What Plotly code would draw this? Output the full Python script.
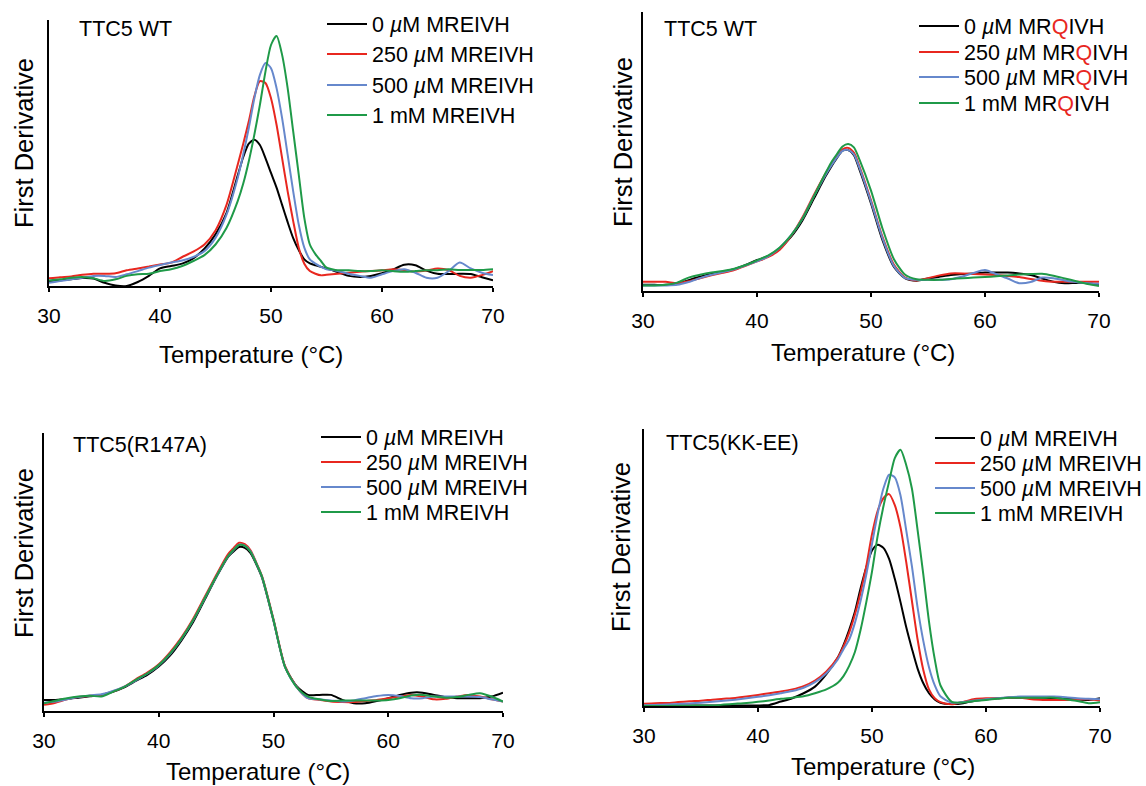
import plotly.graph_objects as go

# ---------------- data ----------------
# temperature grids (°C)
T_A = [30, 31, 32, 33, 34, 35, 36, 37, 38, 39, 40, 41, 42, 43, 44, 45, 46, 47,
       47.5, 48, 48.5, 49, 49.5, 50, 50.5, 51, 51.5, 52, 52.5, 53, 53.5, 54, 54.5, 55, 55.5, 56,
       57, 58, 59, 60, 61, 62, 63, 64, 65, 66, 67, 68, 69, 70]
T_B = [30, 31, 32, 33, 34, 35, 36, 37, 38, 39, 40, 41, 42, 43, 44, 45, 46,
       46.5, 47, 47.5, 48, 48.5,
       49, 50, 51, 52, 53, 54, 55, 56, 57, 58, 59, 60, 61, 62, 63, 64, 65, 66, 67, 68, 69, 70]

series_names_E = ["0 <i>µ</i>M MREIVH", "250 <i>µ</i>M MREIVH", "500 <i>µ</i>M MREIVH", "1 mM MREIVH"]
Q = '<span style="color:#e8271f">Q</span>'
series_names_Q = ["0 <i>µ</i>M MR" + Q + "IVH", "250 <i>µ</i>M MR" + Q + "IVH",
                  "500 <i>µ</i>M MR" + Q + "IVH", "1 mM MR" + Q + "IVH"]
panel_titles = ["TTC5 WT", "TTC5 WT", "TTC5(R147A)", "TTC5(KK-EE)"]
x_ticks = [30, 40, 50, 60, 70]

# Panel 1: TTC5 WT + MREIVH (first derivative, arbitrary units)
p1_0uM = [1.9, 2.2, 2.5, 3.0, 2.8, 1.2, 0.2, 0.0, 1.5, 3.8, 6.6, 7.5, 8.4, 10.4, 14.0, 19.4, 27.5, 41.5,
          48.5, 53.5, 55.0, 53.0, 48.1, 42.5, 37.0, 30.5, 24.0, 18.0, 13.5, 10.0, 8.5, 7.8, 7.2, 6.5, 6.0, 5.2,
          3.8, 3.4, 3.8, 4.8, 6.2, 8.0, 7.8, 5.8, 4.6, 4.5, 4.6, 4.5, 3.3, 2.1]
p1_250uM = [2.9, 3.3, 3.6, 4.2, 4.6, 4.6, 4.8, 5.9, 6.6, 7.3, 8.1, 8.8, 10.9, 12.9, 15.6, 20.9, 30.6, 45.6,
            53.5, 61.9, 71.3, 77.0, 76.3, 70.6, 60.6, 48.1, 35.6, 24.4, 14.4, 8.4, 5.6, 4.6, 4.0, 4.2, 4.4, 4.6,
            5.0, 5.4, 5.6, 5.9, 6.3, 6.0, 5.4, 5.8, 6.6, 6.0, 3.8, 3.1, 4.1, 5.6]
p1_500uM = [1.2, 1.9, 2.5, 3.1, 3.8, 3.8, 3.4, 4.4, 5.6, 6.9, 7.9, 8.8, 9.6, 10.9, 13.1, 18.1, 26.9, 40.6,
            49.5, 59.4, 70.6, 79.4, 83.8, 81.9, 74.4, 63.1, 49.4, 35.6, 23.1, 14.4, 10.0, 8.4, 7.2, 6.3, 6.0, 5.6,
            4.6, 3.8, 3.1, 4.4, 5.6, 6.3, 5.0, 3.1, 3.1, 5.6, 8.8, 6.6, 5.0, 4.1]
p1_1mM = [2.1, 2.5, 3.1, 3.4, 2.9, 1.9, 2.5, 3.8, 4.4, 4.6, 5.6, 6.3, 7.5, 9.4, 11.6, 15.6, 21.9, 31.9,
          38.5, 46.9, 56.9, 68.1, 80.6, 90.6, 94.0, 86.9, 74.4, 58.1, 41.9, 25.6, 15.6, 12.0, 9.4, 6.9, 6.3, 5.9,
          5.9, 5.6, 5.6, 5.9, 5.6, 5.4, 5.6, 5.9, 5.9, 6.3, 6.0, 6.0, 6.0, 6.3]

# Panel 2: TTC5 WT + MRQIVH
p2_0uM = [2.2, 2.2, 2.2, 2.5, 3.9, 5.1, 6.1, 6.9, 7.8, 9.3, 11.1, 12.5, 15.3, 19.5, 25.4, 33.2, 41.0,
          44.5, 47.6, 50.3, 50.5, 48.7,
          43.4, 31.4, 18.3, 8.7, 4.5, 3.7, 4.5, 5.1, 5.7, 6.1, 6.3, 6.6, 6.6, 6.6, 6.3, 5.7, 4.5, 3.3, 2.8, 2.9, 2.9, 2.2]
p2_250uM = [3.3, 3.3, 3.3, 2.8, 3.5, 4.6, 5.6, 6.5, 7.5, 9.0, 10.6, 12.2, 14.8, 19.8, 26.5, 34.5, 42.0,
            45.3, 48.2, 50.8, 51.3, 49.6,
            44.5, 32.5, 19.5, 9.5, 4.8, 3.8, 4.6, 5.6, 6.3, 6.3, 6.1, 5.9, 5.7, 5.4, 5.0, 4.3, 3.7, 3.3, 3.3, 3.3, 3.3, 3.3]
p2_500uM = [2.0, 2.0, 2.0, 2.2, 3.2, 4.6, 5.8, 6.8, 7.8, 9.2, 10.6, 12.5, 15.5, 20.0, 26.0, 34.0, 41.5,
            44.8, 47.8, 50.2, 50.5, 49.0,
            44.0, 32.0, 19.0, 9.0, 4.6, 4.0, 4.0, 4.0, 4.2, 5.2, 6.5, 7.5, 6.0, 4.5, 2.8, 3.2, 4.8, 4.6, 3.8, 3.2, 2.8, 2.6]
p2_1mM = [2.0, 2.0, 2.2, 3.0, 4.8, 5.8, 6.6, 7.2, 8.0, 9.3, 11.0, 12.8, 15.6, 20.0, 26.0, 34.0, 42.2,
          46.0, 49.0, 51.8, 52.7, 51.5,
          47.0, 36.0, 22.5, 11.5, 5.8, 4.2, 4.0, 4.0, 4.3, 4.6, 4.8, 5.0, 5.3, 5.6, 5.9, 6.1, 6.2, 5.5, 4.5, 3.5, 2.5, 1.8]

# Panel 3: TTC5(R147A) + MREIVH
p3_0uM = [4.0, 4.0, 4.3, 4.8, 5.3, 5.8, 6.9, 8.5, 10.8, 13.0, 16.0, 20.0, 25.5, 32.0, 40.0, 48.0, 55.2,
          57.3, 59.0, 58.7, 56.8, 52.8,
          48.0, 32.5, 16.0, 9.0, 5.8, 5.8, 5.8, 4.0, 2.8, 2.8, 3.6, 4.6, 5.8, 6.6, 6.6, 5.8, 5.0, 4.6, 4.6, 4.6, 5.2, 6.6]
p3_250uM = [2.2, 3.0, 4.2, 5.0, 5.5, 5.8, 7.0, 8.8, 11.4, 13.8, 16.8, 21.2, 26.6, 33.2, 41.0, 48.8, 56.2,
            58.5, 60.5, 60.0, 57.8, 53.4,
            48.5, 33.0, 16.2, 8.8, 4.6, 4.0, 3.4, 3.2, 3.2, 3.6, 4.0, 4.6, 5.2, 5.8, 5.2, 4.2, 4.4, 5.2, 5.8, 5.2, 4.2, 3.4]
p3_500uM = [3.0, 3.4, 4.2, 5.0, 5.6, 6.0, 7.2, 8.8, 11.0, 13.4, 16.4, 20.6, 26.0, 32.6, 40.4, 48.2, 55.4,
            57.8, 59.8, 59.5, 57.4, 53.1,
            48.2, 32.6, 15.9, 8.7, 4.6, 4.2, 3.8, 3.4, 3.8, 4.6, 5.4, 5.8, 5.4, 4.6, 4.6, 5.2, 5.2, 5.2, 5.2, 5.0, 4.2, 3.4]
p3_1mM = [2.8, 3.7, 4.6, 5.2, 5.5, 5.2, 6.9, 8.7, 11.2, 13.5, 16.5, 20.7, 26.1, 32.7, 40.5, 48.3, 55.5,
          57.9, 59.7, 59.4, 57.3, 53.1,
          48.3, 32.7, 15.9, 8.7, 5.2, 4.2, 3.6, 3.8, 3.8, 3.8, 3.8, 4.0, 4.6, 5.6, 5.8, 5.2, 4.8, 5.0, 5.8, 6.4, 5.2, 3.4]

# Panel 4: TTC5(KK-EE) + MREIVH
p4_0uM = [0.2, 0.2, 0.2, 0.2, 0.2, 0.2, 0.2, 0.2, 0.2, 0.2, 0.2, 0.4, 1.6, 2.8, 4.6, 7.0, 11.5, 17.5,
          22.0, 27.5, 34.0, 42.5, 50.1, 56.1, 58.2, 57.1, 53.1, 45.9, 37.5, 28.5, 20.7, 13.5, 8.2, 4.6, 2.4, 1.2,
          0.7, 1.0, 1.9, 2.4, 2.8, 3.0, 3.0, 3.0, 3.0, 2.8, 2.8, 2.4, 2.2, 2.8]
p4_250uM = [0.8, 1.0, 1.1, 1.4, 1.7, 1.9, 2.3, 2.6, 2.9, 3.4, 4.0, 4.6, 5.2, 6.0, 7.2, 9.2, 12.5, 17.5,
            21.5, 26.5, 33.0, 41.0, 50.5, 62.0, 70.5, 75.0, 76.5, 72.5, 64.5, 52.0, 38.0, 24.0, 13.0, 6.0, 2.8, 1.4,
            0.6, 1.5, 2.5, 2.8, 2.8, 3.0, 3.0, 2.4, 2.2, 2.2, 2.2, 2.4, 2.4, 2.0]
p4_500uM = [0.3, 0.4, 0.5, 0.7, 0.9, 1.2, 1.5, 1.9, 2.3, 2.8, 3.3, 3.9, 4.6, 5.4, 6.6, 8.6, 11.8, 16.8,
            20.5, 24.0, 30.0, 38.0, 47.5, 58.5, 69.5, 78.5, 83.5, 82.5, 76.0, 63.5, 50.5, 35.5, 23.5, 14.0, 7.5, 3.5,
            1.2, 1.4, 2.0, 2.4, 2.8, 3.2, 3.4, 3.4, 3.4, 3.4, 3.2, 2.8, 2.6, 2.4]
p4_1mM = [0.0, 0.0, 0.0, 0.1, 0.1, 0.2, 0.2, 0.5, 0.8, 1.1, 1.5, 2.0, 2.6, 3.0, 3.5, 4.6, 6.0, 8.4,
          10.8, 14.5, 19.5, 27.5, 37.5, 48.5, 61.5, 72.0, 81.0, 89.5, 92.5, 87.0, 78.5, 63.5, 47.5, 30.5, 17.0, 7.5,
          1.5, 1.3, 1.8, 2.2, 2.6, 3.0, 3.0, 3.0, 3.0, 3.0, 2.4, 1.8, 1.0, 1.4]

# ---------------- styling / layout ----------------
W, H = 1146, 786
FONT = "Liberation Sans, Arial, Helvetica, sans-serif"
COLORS = ["#000000", "#e8271f", "#6688cc", "#1f9a48"]


def px(x):
    return x / W


def py(y):
    return 1 - y / H


panels = [
    dict(T=T_A, ys=[p1_0uM, p1_250uM, p1_500uM, p1_1mM], names=series_names_E,
         box=(49, 493, 20, 286), title_pos=(78, 29), leg_text_x=368, leg_rows=[24, 54, 85, 115],
         ytitle=(24, 143), xtitle=(251, 355)),
    dict(T=T_B, ys=[p2_0uM, p2_250uM, p2_500uM, p2_1mM], names=series_names_Q,
         box=(643, 1099, 12, 291), title_pos=(663, 29), leg_text_x=960, leg_rows=[26, 52, 77, 103],
         ytitle=(623, 142), xtitle=(863, 352)),
    dict(T=T_B, ys=[p3_0uM, p3_250uM, p3_500uM, p3_1mM], names=series_names_E,
         box=(44, 503, 433, 711), title_pos=(72, 445), leg_text_x=362, leg_rows=[437, 462, 487, 512],
         ytitle=(24, 553), xtitle=(258, 771)),
    dict(T=T_A, ys=[p4_0uM, p4_250uM, p4_500uM, p4_1mM], names=series_names_E,
         box=(644, 1100, 429, 706), title_pos=(665, 443), leg_text_x=976, leg_rows=[438, 463, 488, 513],
         ytitle=(621, 547), xtitle=(883, 766)),
]

fig = go.Figure()
layout = dict(
    template="none",
    width=W, height=H, autosize=False,
    margin=dict(l=0, r=0, t=0, b=0, pad=0, autoexpand=False),
    paper_bgcolor="white", plot_bgcolor="white",
    font=dict(family=FONT, color="black"),
    showlegend=True,
)
annotations = []
leg_idx = 0

for i, p in enumerate(panels):
    n = i + 1
    xa = "x" if n == 1 else f"x{n}"
    ya = "y" if n == 1 else f"y{n}"
    for k in range(4):
        leg_idx += 1
        leg = "legend" if leg_idx == 1 else f"legend{leg_idx}"
        fig.add_trace(go.Scatter(
            x=p["T"], y=p["ys"][k], mode="lines", name=p["names"][k],
            line=dict(color=COLORS[k], width=2, shape="spline", smoothing=0.7),
            xaxis=xa, yaxis=ya, legend=leg,
            hoverinfo="skip",
        ))
        layout[leg] = dict(
            x=px(p["leg_text_x"] - 46), y=py(p["leg_rows"][k]), xanchor="left", yanchor="middle",
            bgcolor="rgba(0,0,0,0)", borderwidth=0,
            font=dict(size=21.5, family=FONT, color="black"),
            itemwidth=40,
        )
    l, r, t, b = p["box"]
    layout["xaxis" if n == 1 else f"xaxis{n}"] = dict(
        domain=[px(l), px(r)], range=[30, 70], anchor=ya,
        tickmode="array", tickvals=x_ticks, ticktext=[str(v) for v in x_ticks],
        showline=True, linecolor="black", linewidth=2,
        ticks="outside", ticklen=4, tickwidth=1.5, tickcolor="black",
        ticklabelstandoff=6, automargin=False,
        tickfont=dict(size=21, family=FONT, color="black"),
        showgrid=False, zeroline=False, fixedrange=True,
    )
    layout["yaxis" if n == 1 else f"yaxis{n}"] = dict(
        domain=[py(b), py(t)], range=[0, 100], anchor=xa,
        showline=True, linecolor="black", linewidth=2, automargin=False,
        showticklabels=False, ticks="", showgrid=False, zeroline=False, fixedrange=True,
    )
    tx, ty = p["title_pos"]
    annotations.append(dict(text=panel_titles[i], x=px(tx), y=py(ty), xref="paper", yref="paper",
                            xanchor="left", yanchor="middle", showarrow=False, borderpad=0,
                            font=dict(size=21.5, family=FONT, color="black")))
    yx, yy = p["ytitle"]
    annotations.append(dict(text="First Derivative", x=px(yx), y=py(yy), xref="paper", yref="paper",
                            xanchor="center", yanchor="middle", textangle=-90, showarrow=False,
                            font=dict(size=25.5, family=FONT, color="black")))
    xx, xy = p["xtitle"]
    annotations.append(dict(text="Temperature (°C)", x=px(xx), y=py(xy), xref="paper", yref="paper",
                            xanchor="center", yanchor="middle", showarrow=False,
                            font=dict(size=24, family=FONT, color="black")))

layout["annotations"] = annotations
fig.update_layout(**layout)
fig.write_html(
    "out.html",
    config={"displayModeBar": False},
    post_script="document.body.style.margin='0';document.body.style.overflow='hidden';",
)
